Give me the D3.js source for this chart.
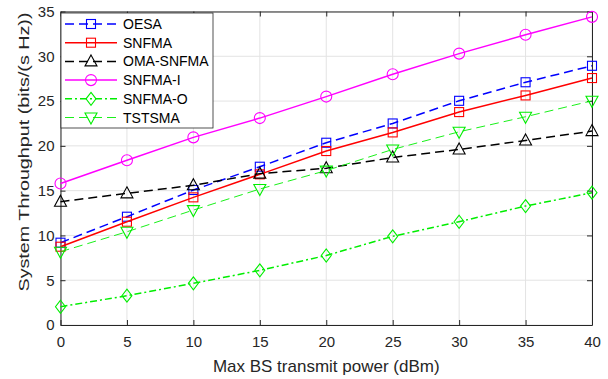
<!DOCTYPE html>
<html><head><meta charset="utf-8">
<script src="https://cdn.jsdelivr.net/npm/d3@7"></script>
<style>body{margin:0;background:#fff}svg{display:block}</style>
</head><body>
<script>
const powers = [0, 5, 10, 15, 20, 25, 30, 35, 40];
const oesa     = [9.19, 12.09, 15.07, 17.67, 20.35, 22.5, 25.03, 27.1, 28.94];
const snfma    = [8.74, 11.53, 14.25, 16.82, 19.42, 21.5, 23.77, 25.63, 27.57];
const omaSnfma = [13.76, 14.7, 15.6, 16.9, 17.5, 18.7, 19.6, 20.6, 21.65];
const snfmaI   = [15.8, 18.4, 20.95, 23.1, 25.5, 28.0, 30.3, 32.4, 34.4];
const snfmaO   = [2.04, 3.27, 4.65, 6.1, 7.76, 9.9, 11.53, 13.28, 14.77];
const tstsma   = [8.18, 10.41, 12.83, 15.18, 17.24, 19.6, 21.57, 23.25, 25.03];
const xTicks = [0, 5, 10, 15, 20, 25, 30, 35, 40];
const yTicks = [0, 5, 10, 15, 20, 25, 30, 35];
const seriesNames = ["OESA", "SNFMA", "OMA-SNFMA", "SNFMA-I", "SNFMA-O", "TSTSMA"];

const styles = [
  {color:"#0000ff", dash:"9,5", width:1.5, marker:"square"},
  {color:"#ff0000", dash:null, width:1.5, marker:"square"},
  {color:"#000000", dash:"9,5", width:1.5, marker:"triangle"},
  {color:"#ff00ff", dash:null, width:1.5, marker:"circle"},
  {color:"#00ee00", dash:"7,3,2,3", width:1.5, marker:"diamond"},
  {color:"#00ee00", dash:"9,5", width:0.9, marker:"triangleDown"}
];
const allData = [oesa, snfma, omaSnfma, snfmaI, snfmaO, tstsma];

const W = 608, H = 379;
const m = {l:60.5, r:16, t:11.5, b:54};
const FONT = "'Liberation Sans', Arial, Helvetica, sans-serif";
const svg = d3.select("body").append("svg").attr("width", W).attr("height", H)
  .style("font-family", FONT);

const x = d3.scaleLinear().domain([0, 40]).range([m.l, W - m.r]);
const y = d3.scaleLinear().domain([0, 35]).range([H - m.b, m.t]);
const axisColor = "#262626";

// grid
const g = svg.append("g");
g.selectAll(".gx").data(xTicks).join("line")
  .attr("x1", d => x(d)).attr("x2", d => x(d)).attr("y1", y(0)).attr("y2", y(35))
  .attr("stroke", "#e3e3e3").attr("stroke-width", 1);
g.selectAll(".gy").data(yTicks).join("line")
  .attr("y1", d => y(d)).attr("y2", d => y(d)).attr("x1", x(0)).attr("x2", x(40))
  .attr("stroke", "#e3e3e3").attr("stroke-width", 1);

// axes
const fs = 15;
const xAxis = d3.axisBottom(x).tickValues(xTicks).tickSizeInner(-5).tickSizeOuter(0).tickPadding(11.5);
const yAxis = d3.axisLeft(y).tickValues(yTicks).tickSizeInner(-5).tickSizeOuter(0).tickPadding(6);
const xT = d3.axisTop(x).tickValues(xTicks).tickSizeInner(-5).tickSizeOuter(0).tickFormat("");
const yR = d3.axisRight(y).tickValues(yTicks).tickSizeInner(-5).tickSizeOuter(0).tickFormat("");

function styleAxis(sel){
  sel.selectAll("path").attr("stroke", axisColor);
  sel.selectAll("line").attr("stroke", axisColor);
  sel.selectAll("text").attr("fill", axisColor).style("font-size", fs + "px").style("font-family", FONT);
}
styleAxis(svg.append("g").attr("transform", `translate(0,${y(0)})`).call(xAxis));
styleAxis(svg.append("g").attr("transform", `translate(${x(0)},0)`).call(yAxis));
styleAxis(svg.append("g").attr("transform", `translate(0,${y(35)})`).call(xT));
styleAxis(svg.append("g").attr("transform", `translate(${x(40)},0)`).call(yR));

// labels
svg.append("text").attr("x", (x(0)+x(40))/2).attr("y", 371.5).attr("text-anchor", "middle")
  .attr("fill", axisColor).style("font-size", "17px").text("Max BS transmit power (dBm)");
svg.append("text").attr("transform", `translate(28.5,152) rotate(-90)`).attr("text-anchor", "middle")
  .attr("fill", axisColor).style("font-size", "15.5px")
  .attr("textLength", 279).attr("lengthAdjust", "spacingAndGlyphs")
  .text("System Throughput (bits/(s Hz))");

// markers
function drawMarker(sel, type, cx, cy, color){
  if (type === "square") {
    sel.append("rect").attr("x", cx-4.5).attr("y", cy-4.5).attr("width", 9).attr("height", 9)
      .attr("fill", "none").attr("stroke", color).attr("stroke-width", 1.1);
  } else if (type === "circle") {
    sel.append("circle").attr("cx", cx).attr("cy", cy).attr("r", 5.5)
      .attr("fill", "none").attr("stroke", color).attr("stroke-width", 1.1);
  } else if (type === "triangle") {
    sel.append("path").attr("d", `M${cx},${cy-6.5}L${cx+6},${cy+4.5}L${cx-6},${cy+4.5}Z`)
      .attr("fill", "none").attr("stroke", color).attr("stroke-width", 1.1);
  } else if (type === "triangleDown") {
    sel.append("path").attr("d", `M${cx},${cy+6.5}L${cx+6},${cy-4.5}L${cx-6},${cy-4.5}Z`)
      .attr("fill", "none").attr("stroke", color).attr("stroke-width", 1.1);
  } else if (type === "diamond") {
    sel.append("path").attr("d", `M${cx},${cy-6.5}L${cx+5},${cy}L${cx},${cy+6.5}L${cx-5},${cy}Z`)
      .attr("fill", "none").attr("stroke", color).attr("stroke-width", 1.1);
  }
}

const line = d3.line().x((d,i) => x(powers[i])).y(d => y(d));
allData.forEach((data, k) => {
  const s = styles[k];
  const gs = svg.append("g");
  gs.append("path").datum(data).attr("d", line).attr("fill", "none")
    .attr("stroke", s.color).attr("stroke-width", s.width)
    .attr("stroke-dasharray", s.dash);
  data.forEach((v, i) => drawMarker(gs, s.marker, x(powers[i]), y(v), s.color));
});

// legend
const lg = svg.append("g");
lg.append("rect").attr("x", 61).attr("y", 13).attr("width", 152).attr("height", 115)
  .attr("fill", "#fff").attr("stroke", axisColor).attr("stroke-width", 0.8);
seriesNames.forEach((name, k) => {
  const s = styles[k];
  const yy = 24 + k * 18.7;
  lg.append("line").attr("x1", 65).attr("x2", 117).attr("y1", yy).attr("y2", yy)
    .attr("stroke", s.color).attr("stroke-width", s.width).attr("stroke-dasharray", s.dash);
  drawMarker(lg, s.marker, 91, yy, s.color);
  lg.append("text").attr("x", 123).attr("y", yy + 5).attr("fill", "#000")
    .style("font-size", "14px").text(name);
});
</script>
</body></html>
